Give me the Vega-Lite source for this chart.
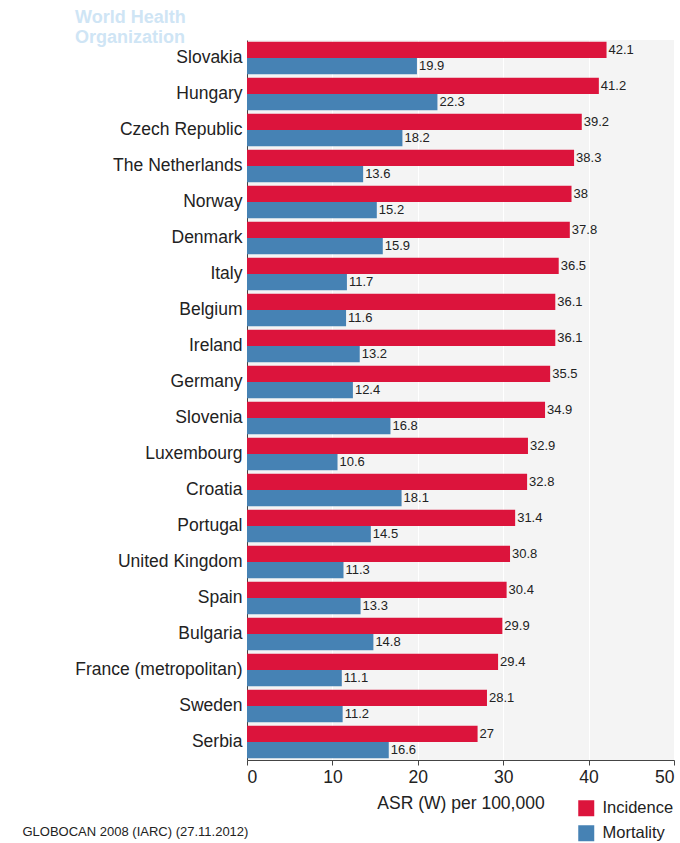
{
  "$schema": "https://vega.github.io/schema/vega-lite/v6.json",
  "autosize": "none",
  "padding": {"left": 247, "top": 40, "right": 6, "bottom": 83},
  "width": 427,
  "height": 720,
  "background": "white",
  "title": {
    "text": ["World Health", "Organization"],
    "anchor": "start",
    "frame": "group",
    "orient": "top",
    "baseline": "alphabetic",
    "dx": -172,
    "offset": -21,
    "fontSize": 18,
    "lineHeight": 20,
    "font": "Liberation Sans",
    "fontWeight": "bold",
    "color": "#cfe5f5"
  },
  "config": {
    "font": "Liberation Sans",
    "view": {"fill": "#f4f4f4", "stroke": null},
    "axis": {
      "labelFont": "Liberation Sans",
      "titleFont": "Liberation Sans",
      "labelColor": "#222",
      "titleColor": "#222",
      "domainColor": "#444",
      "tickColor": "#444"
    }
  },
  "data": {
    "values": [
      {"country": "Slovakia", "measure": "Incidence", "value": 42.1},
      {"country": "Slovakia", "measure": "Mortality", "value": 19.9},
      {"country": "Hungary", "measure": "Incidence", "value": 41.2},
      {"country": "Hungary", "measure": "Mortality", "value": 22.3},
      {"country": "Czech Republic", "measure": "Incidence", "value": 39.2},
      {"country": "Czech Republic", "measure": "Mortality", "value": 18.2},
      {"country": "The Netherlands", "measure": "Incidence", "value": 38.3},
      {"country": "The Netherlands", "measure": "Mortality", "value": 13.6},
      {"country": "Norway", "measure": "Incidence", "value": 38},
      {"country": "Norway", "measure": "Mortality", "value": 15.2},
      {"country": "Denmark", "measure": "Incidence", "value": 37.8},
      {"country": "Denmark", "measure": "Mortality", "value": 15.9},
      {"country": "Italy", "measure": "Incidence", "value": 36.5},
      {"country": "Italy", "measure": "Mortality", "value": 11.7},
      {"country": "Belgium", "measure": "Incidence", "value": 36.1},
      {"country": "Belgium", "measure": "Mortality", "value": 11.6},
      {"country": "Ireland", "measure": "Incidence", "value": 36.1},
      {"country": "Ireland", "measure": "Mortality", "value": 13.2},
      {"country": "Germany", "measure": "Incidence", "value": 35.5},
      {"country": "Germany", "measure": "Mortality", "value": 12.4},
      {"country": "Slovenia", "measure": "Incidence", "value": 34.9},
      {"country": "Slovenia", "measure": "Mortality", "value": 16.8},
      {"country": "Luxembourg", "measure": "Incidence", "value": 32.9},
      {"country": "Luxembourg", "measure": "Mortality", "value": 10.6},
      {"country": "Croatia", "measure": "Incidence", "value": 32.8},
      {"country": "Croatia", "measure": "Mortality", "value": 18.1},
      {"country": "Portugal", "measure": "Incidence", "value": 31.4},
      {"country": "Portugal", "measure": "Mortality", "value": 14.5},
      {"country": "United Kingdom", "measure": "Incidence", "value": 30.8},
      {"country": "United Kingdom", "measure": "Mortality", "value": 11.3},
      {"country": "Spain", "measure": "Incidence", "value": 30.4},
      {"country": "Spain", "measure": "Mortality", "value": 13.3},
      {"country": "Bulgaria", "measure": "Incidence", "value": 29.9},
      {"country": "Bulgaria", "measure": "Mortality", "value": 14.8},
      {"country": "France (metropolitan)", "measure": "Incidence", "value": 29.4},
      {"country": "France (metropolitan)", "measure": "Mortality", "value": 11.1},
      {"country": "Sweden", "measure": "Incidence", "value": 28.1},
      {"country": "Sweden", "measure": "Mortality", "value": 11.2},
      {"country": "Serbia", "measure": "Incidence", "value": 27},
      {"country": "Serbia", "measure": "Mortality", "value": 16.6}
    ]
  },
  "encoding": {
    "y": {
      "field": "country",
      "type": "nominal",
      "sort": null,
      "scale": {"paddingInner": 0.1, "paddingOuter": 0.05},
      "axis": {
        "title": "GLOBOCAN 2008 (IARC) (27.11.2012)",
        "titleAngle": 0,
        "titleAlign": "left",
        "titleBaseline": "alphabetic",
        "titleX": -225,
        "titleY": 795,
        "titleFontSize": 13,
        "titleFontWeight": "normal",
        "labelFontSize": 17.5,
        "labelPadding": 5,
        "ticks": false,
        "domain": true
      }
    },
    "yOffset": {"field": "measure", "type": "nominal"},
    "x": {
      "field": "value",
      "type": "quantitative",
      "scale": {"domain": [0, 50], "nice": false},
      "axis": {
        "title": "ASR (W) per 100,000",
        "titleFontSize": 17.5,
        "titleFontWeight": "normal",
        "titlePadding": 9,
        "values": [0, 10, 20, 30, 40, 50],
        "labelFontSize": 17.5,
        "labelPadding": 3,
        "tickSize": 5,
        "grid": true,
        "gridColor": "white",
        "gridWidth": 1
      }
    }
  },
  "layer": [
    {
      "mark": {"type": "bar"},
      "encoding": {
        "color": {
          "field": "measure",
          "type": "nominal",
          "scale": {"domain": ["Incidence", "Mortality"], "range": ["#dc143c", "#4682b4"]},
          "legend": {
            "title": null,
            "orient": "none",
            "legendX": 331,
            "legendY": 760,
            "padding": 0,
            "symbolType": "square",
            "symbolSize": 256,
            "symbolStrokeWidth": 0,
            "symbolOpacity": 1,
            "labelFontSize": 16.5,
            "labelColor": "#222",
            "labelOffset": 8,
            "rowPadding": 8
          }
        }
      }
    },
    {
      "mark": {"type": "text", "align": "left", "baseline": "middle", "dx": 2, "fontSize": 13, "color": "#222"},
      "encoding": {
        "text": {"field": "value", "type": "quantitative"}
      }
    }
  ]
}
